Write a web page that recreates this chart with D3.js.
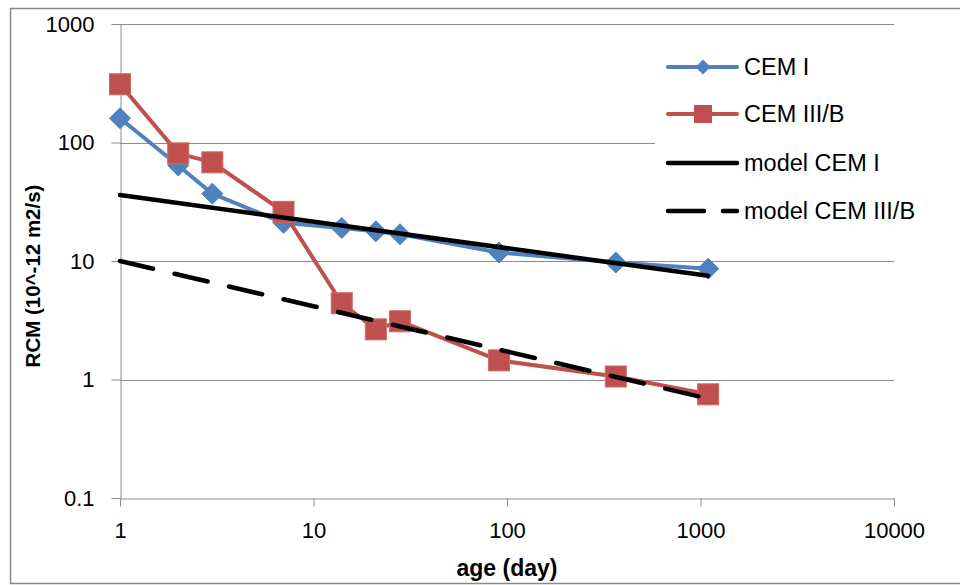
<!DOCTYPE html>
<html>
<head>
<meta charset="utf-8">
<script src="https://cdn.jsdelivr.net/npm/d3@7"></script>
<style>
  body { margin: 0; background: #fff; }
  svg { display: block; font-family: "Liberation Sans", Arial, sans-serif; }
</style>
</head>
<body>
<div class="container"></div>
<script>
// ages in days
var ages = [1, 2, 3, 7, 14, 21, 28, 91, 365, 1095]
var cem1 = [160, 64, 37, 21, 19, 17.8, 16.8, 11.8, 9.7, 8.6]
var cem3 = [310, 81, 68, 26, 4.4, 2.65, 3.1, 1.45, 1.06, 0.75]
var modelAges = [1, 1095]
var modelCem1 = [36, 7.5]
var modelCem3 = [10, 0.69]
var xTicks = [1, 10, 100, 1000, 10000]
var yTicks = [0.1, 1, 10, 100, 1000]
var legendLabels = ['CEM I', 'CEM III/B', 'model CEM I', 'model CEM III/B']

var opts = {
  width: 960,
  height: 585,
  left: 120,
  right: 894,
  top: 24,
  bottom: 498,
  blue: '#4f81bd',
  red: '#c0504d',
  grid: '#8c8c8c'
}

var svg = d3.select('.container').append('svg')
  .attr('width', opts.width)
  .attr('height', opts.height)

// outer chart border
svg.append('rect')
  .attr('x', 10.5).attr('y', 8.5)
  .attr('width', 980).attr('height', 575)
  .attr('fill', '#fff')
  .attr('stroke', '#8a8a8a')
  .attr('stroke-width', 1.5)

var x = d3.scaleLog().domain([1, 10000]).range([opts.left, opts.right])
var y = d3.scaleLog().domain([0.1, 1000]).range([opts.bottom, opts.top])

// horizontal gridlines
svg.append('g').selectAll('line')
  .data(yTicks.slice(1))
  .enter().append('line')
  .attr('x1', opts.left).attr('x2', opts.right)
  .attr('y1', function (d) { return Math.round(y(d)) + 0.5 })
  .attr('y2', function (d) { return Math.round(y(d)) + 0.5 })
  .attr('stroke', opts.grid).attr('stroke-width', 1)

var fmt = function (d) { return d < 1 ? '0.1' : d3.format('d')(d) }

var xAxis = svg.append('g')
  .attr('transform', 'translate(0,' + (opts.bottom + 0.5) + ')')
  .call(d3.axisBottom(x).tickValues(xTicks).tickFormat(fmt).tickSize(8).tickSizeOuter(0).tickPadding(16))

var yAxis = svg.append('g')
  .attr('transform', 'translate(' + (opts.left + 0.5) + ',0)')
  .call(d3.axisLeft(y).tickValues(yTicks).tickFormat(fmt).tickSize(9).tickSizeOuter(0).tickPadding(17))

;[xAxis, yAxis].forEach(function (a) {
  a.select('.domain').attr('stroke', opts.grid)
  a.selectAll('.tick line').attr('stroke', opts.grid)
  a.selectAll('text').attr('font-size', 22).attr('fill', '#000')
    .attr('font-family', '"Liberation Sans", Arial, sans-serif')
})

// series
var line = d3.line()
  .x(function (d) { return x(d[0]) })
  .y(function (d) { return y(d[1]) })

var pts1 = ages.map(function (a, i) { return [a, cem1[i]] })
var pts3 = ages.map(function (a, i) { return [a, cem3[i]] })

var diamond = function (s) { return 'M0,' + (-s) + 'L' + s + ',0L0,' + s + 'L' + (-s) + ',0Z' }

svg.append('path').datum(pts1).attr('d', line)
  .attr('fill', 'none').attr('stroke', opts.blue).attr('stroke-width', 4).attr('stroke-linejoin', 'round')
svg.append('g').selectAll('path').data(pts1).enter().append('path')
  .attr('transform', function (d) { return 'translate(' + x(d[0]) + ',' + y(d[1]) + ')' })
  .attr('d', diamond(10.5))
  .attr('fill', opts.blue).attr('stroke', opts.blue).attr('stroke-width', 1)

svg.append('path').datum(pts3).attr('d', line)
  .attr('fill', 'none').attr('stroke', opts.red).attr('stroke-width', 4).attr('stroke-linejoin', 'round')
svg.append('g').selectAll('rect').data(pts3).enter().append('rect')
  .attr('x', function (d) { return x(d[0]) - 10.5 })
  .attr('y', function (d) { return y(d[1]) - 10.5 })
  .attr('width', 21).attr('height', 21)
  .attr('fill', opts.red).attr('stroke', '#c96a67').attr('stroke-width', 1)

svg.append('path').datum(modelAges.map(function (a, i) { return [a, modelCem1[i]] }))
  .attr('d', line).attr('fill', 'none').attr('stroke', '#000').attr('stroke-width', 4.5)
  .attr('stroke-linecap', 'round')

svg.append('path').datum(modelAges.map(function (a, i) { return [a, modelCem3[i]] }))
  .attr('d', line).attr('fill', 'none').attr('stroke', '#000').attr('stroke-width', 4.5)
  .attr('stroke-linecap', 'round').attr('stroke-dasharray', '34,22')

// legend
var legend = svg.append('g')
legend.append('rect')
  .attr('x', 655).attr('y', 40).attr('width', 305).attr('height', 200)
  .attr('fill', '#fff')

var rows = [67, 114, 163, 211]
var lx1 = 668, lx2 = 737, lmid = 703

legend.append('line').attr('x1', lx1).attr('x2', lx2).attr('y1', rows[0]).attr('y2', rows[0])
  .attr('stroke', opts.blue).attr('stroke-width', 4).attr('stroke-linecap', 'round')
legend.append('path').attr('transform', 'translate(' + lmid + ',' + rows[0] + ')')
  .attr('d', diamond(7.5)).attr('fill', opts.blue)

legend.append('line').attr('x1', lx1).attr('x2', lx2).attr('y1', rows[1]).attr('y2', rows[1])
  .attr('stroke', opts.red).attr('stroke-width', 4).attr('stroke-linecap', 'round')
legend.append('rect').attr('x', lmid - 9).attr('y', rows[1] - 9).attr('width', 18).attr('height', 18)
  .attr('fill', opts.red)

legend.append('line').attr('x1', lx1).attr('x2', lx2).attr('y1', rows[2]).attr('y2', rows[2])
  .attr('stroke', '#000').attr('stroke-width', 4.5).attr('stroke-linecap', 'round')

legend.append('line').attr('x1', lx1).attr('x2', lx2).attr('y1', rows[3]).attr('y2', rows[3])
  .attr('stroke', '#000').attr('stroke-width', 4.5).attr('stroke-linecap', 'round')
  .attr('stroke-dasharray', '36,19')

legend.selectAll('text').data(legendLabels).enter().append('text')
  .attr('x', 744)
  .attr('y', function (d, i) { return rows[i] })
  .attr('dy', '0.35em')
  .attr('font-size', 23.5)
  .text(function (d) { return d })

// axis titles
svg.append('text')
  .attr('x', 507).attr('y', 576)
  .attr('text-anchor', 'middle')
  .attr('font-size', 23).attr('font-weight', 'bold')
  .text('age (day)')

svg.append('text')
  .attr('transform', 'translate(40,276) rotate(-90)')
  .attr('text-anchor', 'middle')
  .attr('font-size', 20.5).attr('font-weight', 'bold')
  .text('RCM (10^-12 m2/s)')
</script>
</body>
</html>
